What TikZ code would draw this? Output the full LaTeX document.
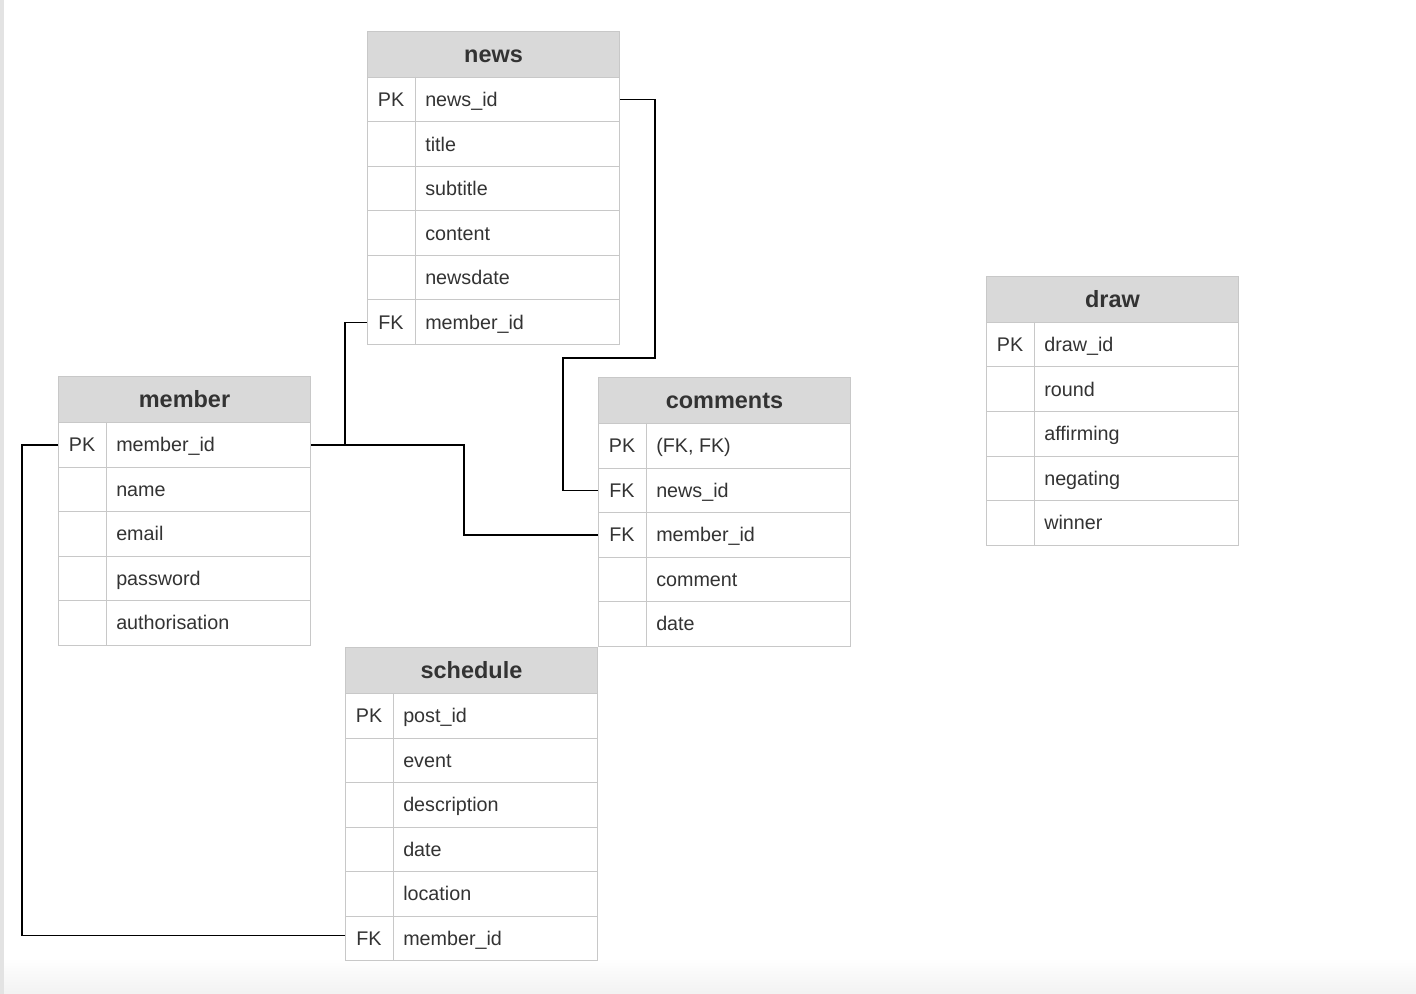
\documentclass[tikz,border=0pt]{standalone}
\usepackage{fontspec}
\setmainfont{Liberation Sans}
\begin{document}
\definecolor{gridc}{RGB}{200,200,200}
\definecolor{hdrfill}{RGB}{217,217,217}
\definecolor{txtc}{RGB}{51,51,51}
\tikzset{
  hdrbox/.style={draw=gridc, fill=hdrfill, line width=0.75pt, minimum width=189pt, minimum height=34.5pt, inner sep=0pt},
  rowbox/.style={draw=gridc, fill=white, line width=0.75pt, minimum width=189pt, minimum height=33.4pt, inner sep=0pt},
  hdrtxt/.style={font=\fontsize{17.6}{20}\selectfont\bfseries, text=txtc, inner sep=0pt, anchor=base},
  keytxt/.style={font=\fontsize{14.8}{17}\selectfont, text=txtc, inner sep=0pt, anchor=base},
  fldtxt/.style={font=\fontsize{14.8}{17}\selectfont, text=txtc, inner sep=0pt, anchor=base west},
  divider/.style={draw=gridc, line width=0.75pt},
  link/.style={draw=black, line width=1.1pt}
}
% \erdtable{name}{left x}{top y}{title}{key/field list}
\newcommand{\erdtable}[5]{%
  \node[hdrbox, anchor=north west] (#1-h) at (#2,#3) {};
  \node[hdrtxt] (#1-t) at ([yshift=-6pt]#1-h.center) {#4};
  \foreach \k/\f [count=\i] in {#5} {
    \pgfmathsetmacro{\ry}{#3+46+(\i-1)*44.5}
    \node[rowbox, anchor=north west] (#1-\i) at (#2,\ry) {};
    \draw[divider] ([xshift=36pt]#1-\i.north west) -- ([xshift=36pt]#1-\i.south west);
    \node[keytxt] (#1-\i-k) at ([xshift=18pt,yshift=-5.4pt]#1-\i.west) {\k};
    \node[fldtxt] (#1-\i-f) at ([xshift=43.5pt,yshift=-5.4pt]#1-\i.west) {\f};
  }%
}
\begin{tikzpicture}[x=0.75pt, y=-0.75pt]
  \useasboundingbox (0,0) rectangle (1416,994);
  % page background, side strip and bottom fade
  \fill[white] (0,0) rectangle (1416,994);
  \shade[top color=white, bottom color=black!5] (0,958) rectangle (1416,994);
  \fill[black!11] (0,0) rectangle (4,994);

  \erdtable{news}{367}{31}{news}{PK/news\_id, /title, /subtitle, /content, /newsdate, FK/member\_id}
  \erdtable{member}{58}{376}{member}{PK/member\_id, /name, /email, /password, /authorisation}
  \erdtable{comments}{598}{377}{comments}{PK/{(FK, FK)}, FK/news\_id, FK/member\_id, /comment, /date}
  \erdtable{schedule}{345}{647}{schedule}{PK/post\_id, /event, /description, /date, /location, FK/member\_id}
  \erdtable{draw}{986}{276}{draw}{PK/draw\_id, /round, /affirming, /negating, /winner}

  % relationship connectors
  \coordinate (j1a) at (655,358);
  \coordinate (j1b) at (563,358);
  \coordinate (j2) at (345,0);
  \coordinate (j3) at (464,0);
  \coordinate (j4) at (22,0);
  \coordinate (s6) at ([yshift=2.25pt]schedule-6.west);
  \draw[link] (news-1.east) -| (j1a) -- (j1b) |- (comments-2.west);
  \draw[link] (member-1.east) -- (member-1.east -| j2) |- (news-6.west);
  \draw[link] (member-1.east) -- (member-1.east -| j3) |- (comments-3.west);
  \draw[link] (member-1.west) -- (member-1.west -| j4) |- (s6);
\end{tikzpicture}
\end{document}
